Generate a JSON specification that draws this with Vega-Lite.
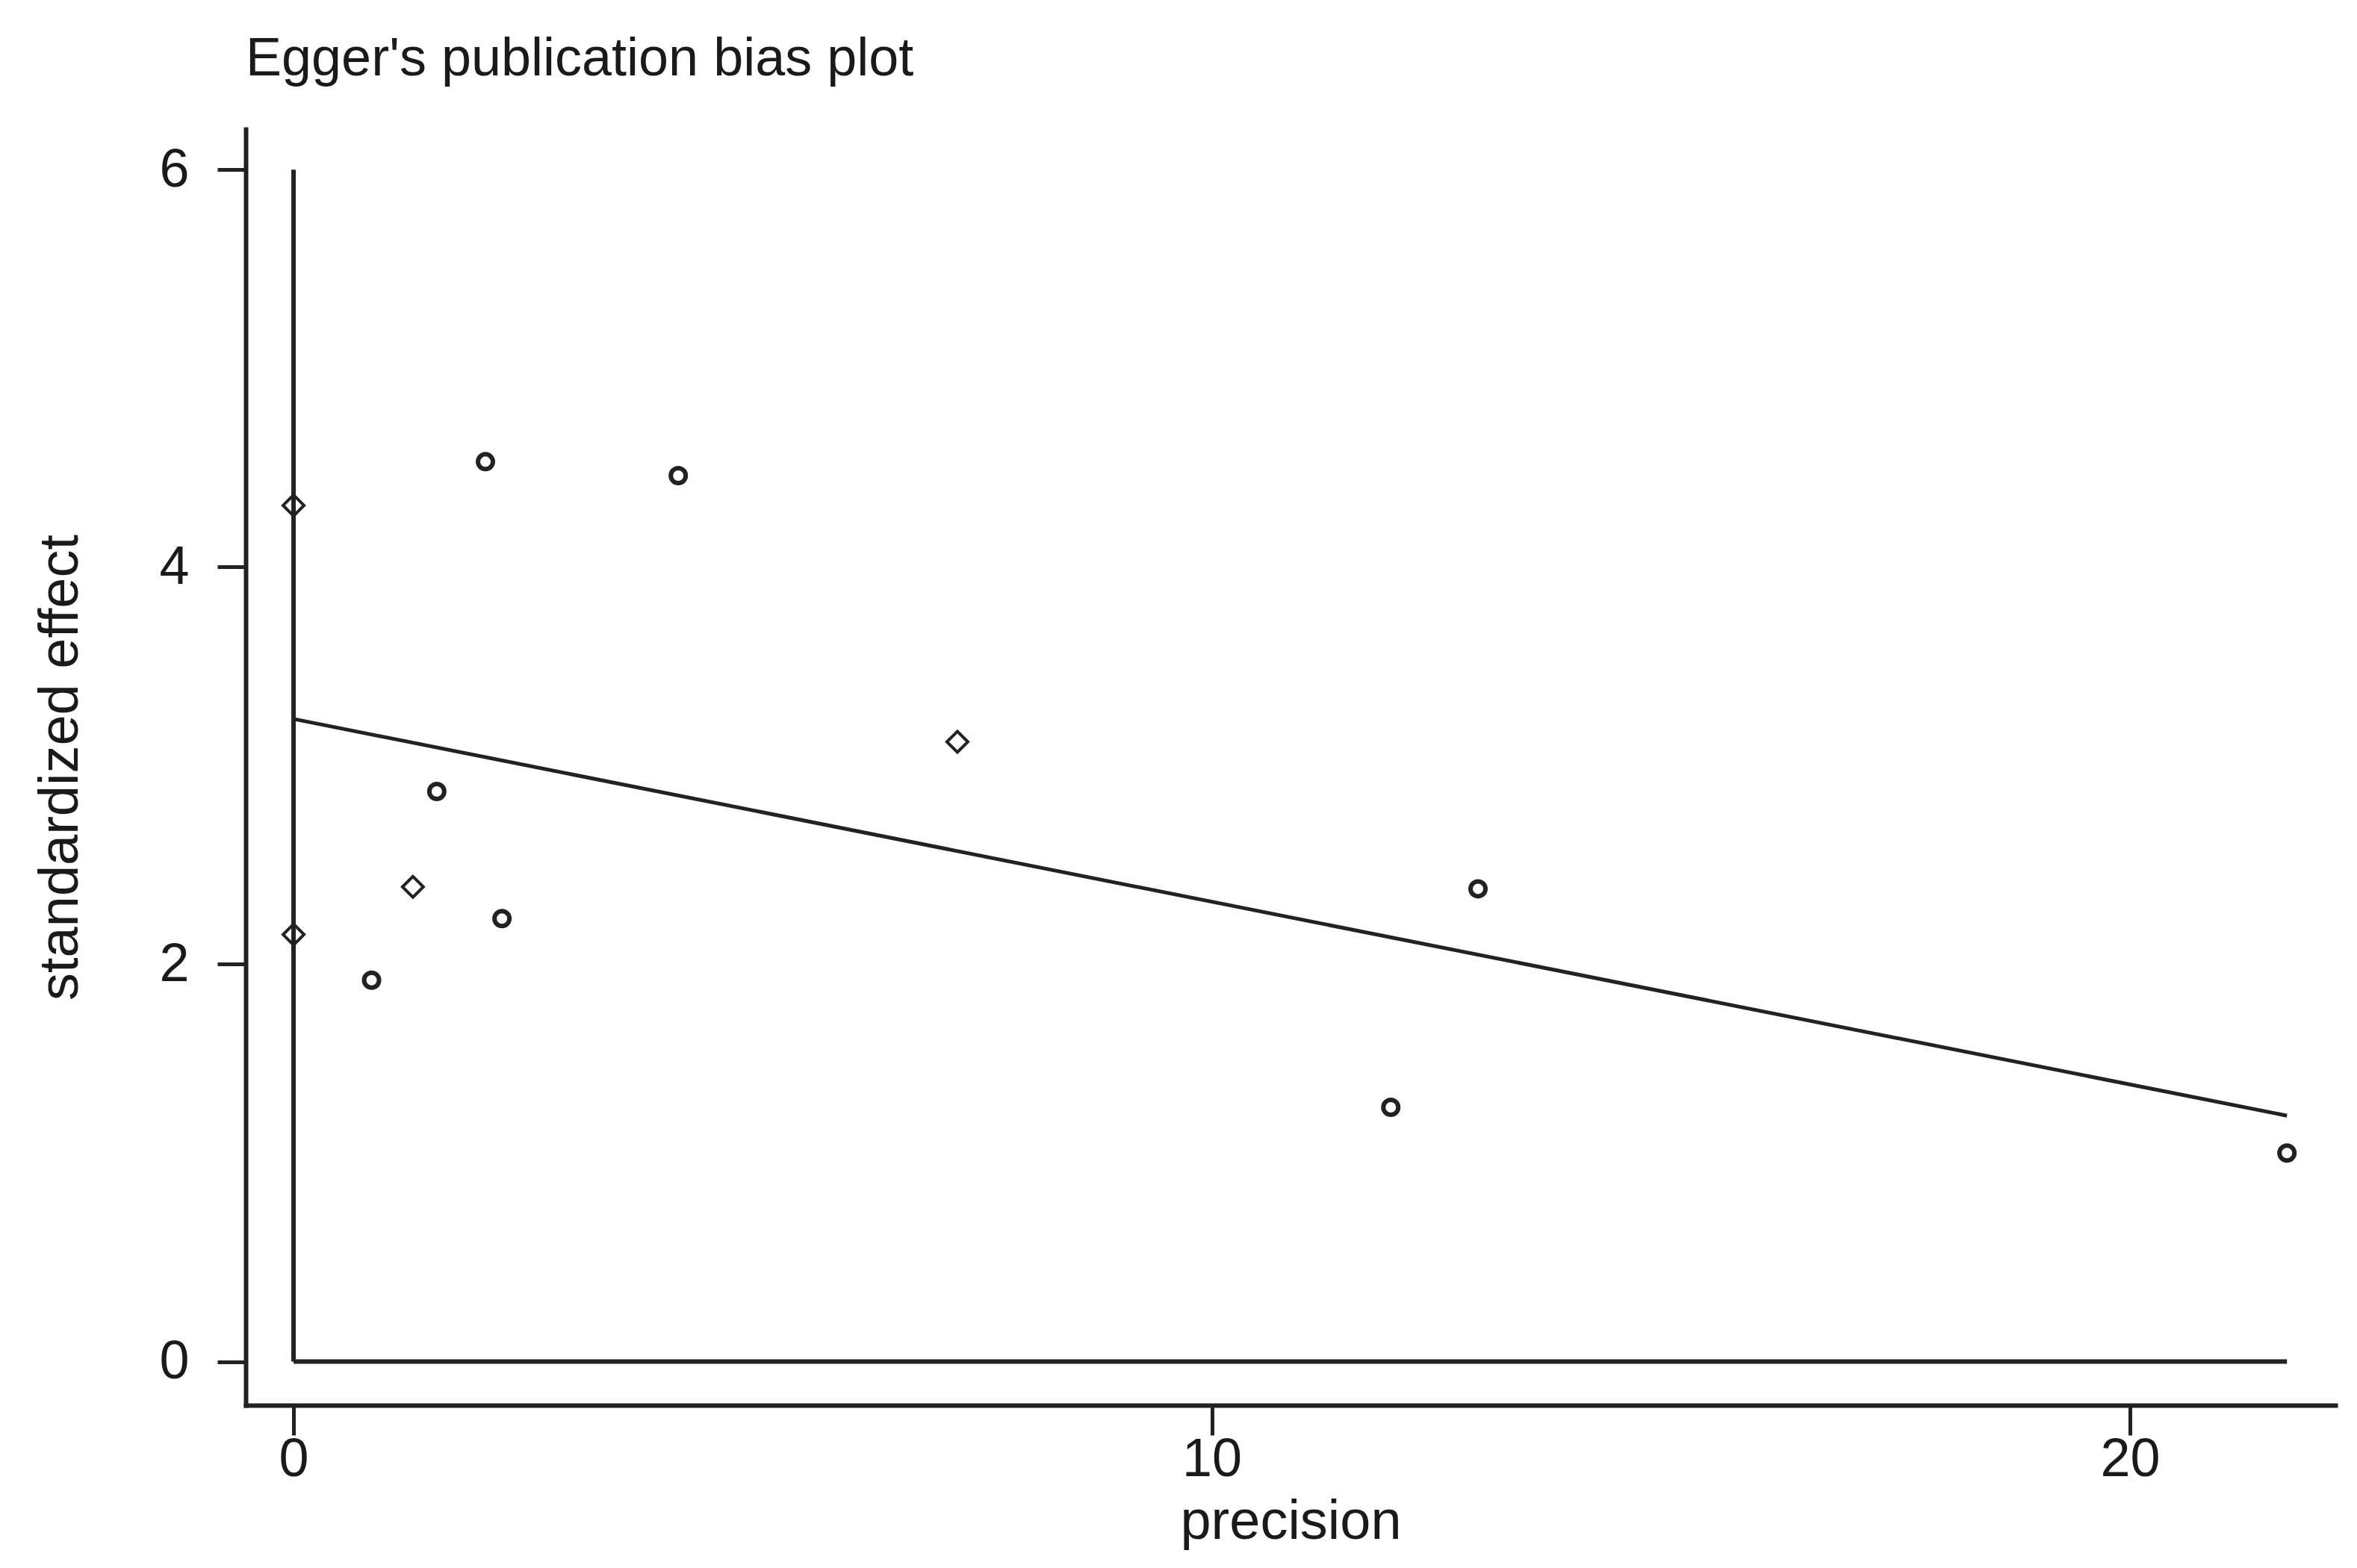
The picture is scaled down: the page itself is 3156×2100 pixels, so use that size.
{
  "$schema": "https://vega.github.io/schema/vega-lite/v6.json",
  "autosize": {"type": "none"},
  "padding": {"left": 329, "top": 173, "right": 29, "bottom": 218},
  "width": 2798,
  "height": 1709,
  "background": "white",
  "title": {
    "text": "Egger's publication bias plot",
    "anchor": "start",
    "frame": "group",
    "font": "Liberation Sans",
    "fontSize": 72,
    "fontWeight": "normal",
    "color": "#1a1a1a",
    "baseline": "alphabetic",
    "offset": 0
  },
  "config": {
    "view": {"stroke": null},
    "font": "Liberation Sans",
    "axis": {
      "grid": false,
      "domainColor": "#222222",
      "domainWidth": 6,
      "domainCap": "square",
      "tickColor": "#222222",
      "tickWidth": 5,
      "labelColor": "#1a1a1a",
      "titleColor": "#1a1a1a",
      "labelFont": "Liberation Sans",
      "titleFont": "Liberation Sans",
      "labelFontSize": 72,
      "titleFontSize": 74,
      "titleFontWeight": "normal",
      "labelFlush": false,
      "labelOverlap": false,
      "format": "d"
    },
    "axisX": {"tickSize": 40, "labelPadding": -3, "titlePadding": 12},
    "axisY": {"tickSize": 38, "labelPadding": 38, "titlePadding": 93}
  },
  "datasets": {
    "studies": [
      {"x": 0.0, "y": 4.31, "m": "diamond"},
      {"x": 0.0, "y": 2.15, "m": "diamond"},
      {"x": 0.85, "y": 1.92, "m": "circle"},
      {"x": 1.3, "y": 2.39, "m": "diamond"},
      {"x": 1.56, "y": 2.87, "m": "circle"},
      {"x": 2.09, "y": 4.53, "m": "circle"},
      {"x": 2.27, "y": 2.23, "m": "circle"},
      {"x": 4.19, "y": 4.46, "m": "circle"},
      {"x": 7.23, "y": 3.12, "m": "diamond"},
      {"x": 11.95, "y": 1.28, "m": "circle"},
      {"x": 12.9, "y": 2.38, "m": "circle"},
      {"x": 21.71, "y": 1.05, "m": "circle"}
    ],
    "fit": [
      {"x": 0.0, "y": 3.235},
      {"x": 21.71, "y": 1.238}
    ],
    "vrule": [{"x": 0, "y": 0, "y2": 6}],
    "hrule": [{"x": 0, "x2": 21.71, "y": 0}]
  },
  "layer": [
    {
      "data": {"name": "vrule"},
      "mark": {"type": "rule", "color": "#222222", "strokeWidth": 6},
      "encoding": {
        "x": {"field": "x", "type": "quantitative", "title": "precision", "scale": {"domain": [-0.521, 22.237], "nice": false, "zero": false}, "axis": {"values": [0, 10, 20], "format": "d"}},
        "y": {"field": "y", "type": "quantitative", "title": "standardized effect", "scale": {"domain": [-0.2195, 6.204], "nice": false, "zero": false}, "axis": {"values": [0, 2, 4, 6], "format": "d"}},
        "y2": {"field": "y2"}
      }
    },
    {
      "data": {"name": "hrule"},
      "mark": {"type": "rule", "color": "#222222", "strokeWidth": 6},
      "encoding": {
        "x": {"field": "x", "type": "quantitative", "title": "precision"},
        "x2": {"field": "x2"},
        "y": {"field": "y", "type": "quantitative", "title": "standardized effect"}
      }
    },
    {
      "data": {"name": "fit"},
      "mark": {"type": "line", "color": "#222222", "strokeWidth": 5},
      "encoding": {
        "x": {"field": "x", "type": "quantitative", "title": "precision"},
        "y": {"field": "y", "type": "quantitative", "title": "standardized effect"}
      }
    },
    {
      "data": {"name": "studies"},
      "transform": [{"filter": "datum.m === 'circle'"}],
      "mark": {"type": "point", "shape": "circle", "filled": false, "stroke": "#222222", "strokeWidth": 6, "size": 400, "opacity": 1},
      "encoding": {
        "x": {"field": "x", "type": "quantitative", "title": "precision"},
        "y": {"field": "y", "type": "quantitative", "title": "standardized effect"}
      }
    },
    {
      "data": {"name": "studies"},
      "transform": [{"filter": "datum.m === 'diamond'"}],
      "mark": {"type": "point", "shape": "diamond", "filled": false, "stroke": "#222222", "strokeWidth": 4, "size": 784, "opacity": 1},
      "encoding": {
        "x": {"field": "x", "type": "quantitative", "title": "precision"},
        "y": {"field": "y", "type": "quantitative", "title": "standardized effect"}
      }
    }
  ]
}
